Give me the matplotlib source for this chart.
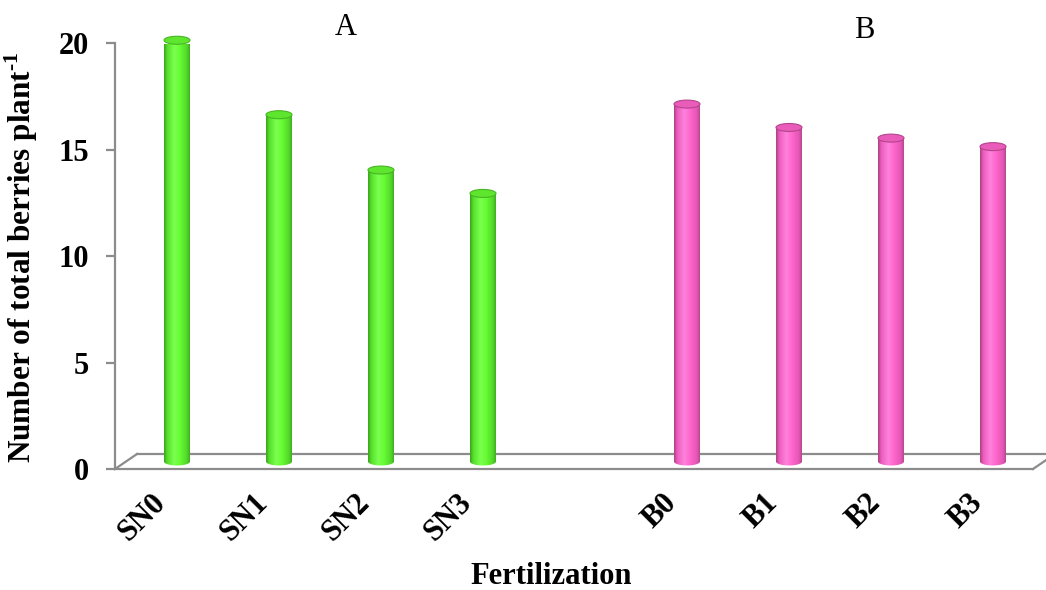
import numpy as np
import matplotlib
matplotlib.use("Agg")
import matplotlib.pyplot as plt
from matplotlib.colors import LinearSegmentedColormap
from matplotlib.patches import Ellipse, PathPatch
from matplotlib.path import Path
from matplotlib.transforms import ScaledTranslation

# Data: two fertilization groups with a blank slot between them
sn_labels = ["SN0", "SN1", "SN2", "SN3"]
sn_values = [19.8, 16.3, 13.7, 12.6]
b_labels = ["B0", "B1", "B2", "B3"]
b_values = [16.8, 15.7, 15.2, 14.8]
group_names = ["A", "B"]
y_ticks = [0, 5, 10, 15, 20]

categories = sn_labels + [""] + b_labels
positions = np.arange(len(categories))
sn_pos = positions[:4]
b_pos = positions[5:]

plt.rcParams["font.family"] = ["Liberation Serif", "DejaVu Serif"]
plt.rcParams["mathtext.fontset"] = "custom"
plt.rcParams["mathtext.rm"] = "Liberation Serif"
plt.rcParams["mathtext.bf"] = "Liberation Serif:bold"

fig = plt.figure(figsize=(10.46, 5.90), dpi=100)
W, H = 1046, 590
ax = fig.add_axes([115 / W, (H - 469) / H, 918 / W, 425.5 / H])
ax.set_xlim(-0.5, len(categories) - 0.5)
ax.set_ylim(0, 20)

# 3-D floor depth expressed in axis units
depth_x = 22 / 102
depth_y = 15 / 21.275
bar_w = 0.255
cap_h = 8 / 21.275

axis_grey = "#8c8c8c"

green_cmap = LinearSegmentedColormap.from_list(
    "cyl_green",
    [(0.0, "#3a9f1c"), (0.12, "#55e02a"), (0.38, "#7bff4f"),
     (0.6, "#66fb33"), (0.85, "#52d82a"), (1.0, "#3c9e1e")])
pink_cmap = LinearSegmentedColormap.from_list(
    "cyl_pink",
    [(0.0, "#a8407f"), (0.12, "#ec5cbd"), (0.38, "#ff82dc"),
     (0.6, "#ff66cc"), (0.85, "#e457b6"), (1.0, "#a8427f")])


def cylinder(x, value, cmap, top_face, top_edge):
    cx = x + depth_x / 2
    base = depth_y / 2
    left, right = cx - bar_w / 2, cx + bar_w / 2
    top = base + value
    t = np.linspace(np.pi, 2 * np.pi, 40)
    arc = np.column_stack([cx + bar_w / 2 * np.cos(t),
                           base + cap_h / 2 * np.sin(t)])
    verts = np.vstack([[left, top], [left, base], arc, [right, base],
                       [right, top], [left, top]])
    codes = [Path.MOVETO] + [Path.LINETO] * (len(verts) - 2) + [Path.CLOSEPOLY]
    body = PathPatch(Path(verts, codes), facecolor="none", edgecolor="none")
    ax.add_patch(body)
    grad = np.linspace(0, 1, 256).reshape(1, -1)
    im = ax.imshow(grad, cmap=cmap, aspect="auto",
                   extent=[left, right, base - cap_h / 2, top],
                   interpolation="bilinear", zorder=3)
    im.set_clip_path(body)
    im.set_clip_box(None)
    ax.add_patch(Ellipse((cx, top), bar_w, cap_h, facecolor=top_face,
                         edgecolor=top_edge, linewidth=0.8, zorder=4,
                         clip_on=False))


# floor of the 3-D plot
x0, x1 = -0.5, len(categories) - 0.5
ax.plot([x0 + depth_x, x1 + depth_x], [depth_y, depth_y], color=axis_grey,
        lw=1.6, clip_on=False, zorder=1)
ax.plot([x0, x0 + depth_x], [0, depth_y], color=axis_grey, lw=1.6,
        clip_on=False, zorder=1)
ax.plot([x1, x1 + depth_x], [0, depth_y], color=axis_grey, lw=1.6,
        clip_on=False, zorder=1)

for xp, v in zip(sn_pos, sn_values):
    cylinder(xp, v, green_cmap, "#5ee62f", "#48b524")
for xp, v in zip(b_pos, b_values):
    cylinder(xp, v, pink_cmap, "#e95cb9", "#b2468c")

ax.set_xlim(x0, x1)
ax.set_ylim(0, 20)

for side in ["top", "right"]:
    ax.spines[side].set_visible(False)
for side in ["left", "bottom"]:
    ax.spines[side].set_color(axis_grey)
    ax.spines[side].set_linewidth(1.6)
    ax.spines[side].set_zorder(2)

ax.set_yticks(y_ticks)
ax.set_yticklabels([str(t) for t in y_ticks], fontsize=22, fontweight="bold")
ax.tick_params(axis="y", length=6.5, width=1.6, color=axis_grey, pad=12)

ax.set_xticks(positions)
ax.set_xticklabels(categories, fontsize=22, fontweight="bold", rotation=45,
                   ha="right", va="top")
ax.tick_params(axis="x", length=0, pad=14)
shift = ScaledTranslation(6 / 100, 0, fig.dpi_scale_trans)
for lbl in ax.get_xticklabels():
    lbl.set_transform(lbl.get_transform() + shift)

ax.set_ylabel("Number of total berries plant$^{\\mathregular{\u2010}\\mathregular{1}}$",
              fontsize=22.5, fontweight="bold")
ax.yaxis.set_label_coords(-0.0817, 0.498)
ax.set_xlabel("Fertilization", fontsize=22, fontweight="bold")
ax.xaxis.set_label_coords(0.4755, -0.218)

ax.text(1.765, 20.75, group_names[0], fontsize=22, ha="center", va="center",
        clip_on=False)
ax.text(6.85, 20.59, group_names[1], fontsize=22, ha="center", va="center",
        clip_on=False)

fig.savefig("out.png", dpi=100)
